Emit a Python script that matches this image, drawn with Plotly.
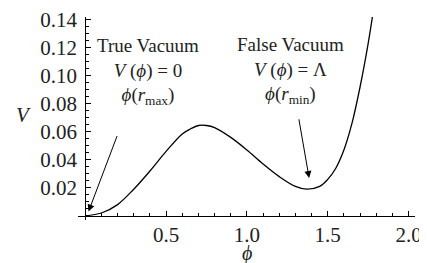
import plotly.graph_objects as go

# Data
phi = [0.0, 0.1, 0.2, 0.3, 0.4, 0.5, 0.6, 0.65, 0.7, 0.75, 0.8, 0.9, 1.0, 1.1, 1.2,
       1.3, 1.37, 1.45, 1.5, 1.55, 1.6, 1.65, 1.7, 1.75, 1.8]
V = [0.0, 0.002, 0.008, 0.019, 0.032, 0.046, 0.0585, 0.062, 0.0645, 0.0645, 0.063,
     0.056, 0.047, 0.037, 0.028, 0.021, 0.019, 0.021, 0.026, 0.034, 0.047, 0.066,
     0.092, 0.123, 0.16]

x_ticks = [0.5, 1.0, 1.5, 2.0]
x_ticktext = ["0.5", "1.0", "1.5", "2.0"]
y_ticks = [0.02, 0.04, 0.06, 0.08, 0.10, 0.12, 0.14]
y_ticktext = ["0.02", "0.04", "0.06", "0.08", "0.10", "0.12", "0.14"]

x_range = [-0.045, 2.04]
y_range = [-0.003, 0.142]

FONT = "Liberation Serif"
PHI = "\u03d5"

fig = go.Figure()
fig.add_trace(go.Scatter(x=phi, y=V, mode="lines",
                         line=dict(color="black", width=1.3, shape="spline", smoothing=1.0),
                         hoverinfo="skip", showlegend=False))

xpos = (0 - y_range[0]) / (y_range[1] - y_range[0])
ypos = (0 - x_range[0]) / (x_range[1] - x_range[0])

tickfont = dict(family=FONT, size=21, color="#222")

# page body has an 8px margin, so the figure is 8px smaller and margins shifted
fig.update_layout(
    width=419, height=255,
    margin=dict(l=70, r=12, t=9, b=43, autoexpand=False),
    paper_bgcolor="white", plot_bgcolor="white",
    font=dict(family=FONT, size=19, color="#222"),
    xaxis=dict(range=x_range, showgrid=False, zeroline=False, showline=True, linecolor="black", linewidth=1,
               anchor="free", position=xpos, tickvals=x_ticks, ticktext=x_ticktext, automargin=False,
               ticks="inside", ticklen=5, tickcolor="black", tickwidth=1,
               minor=dict(dtick=0.1, tick0=0, ticks="inside", ticklen=3, tickcolor="black", tickwidth=1),
               tickfont=tickfont, ticklabelstandoff=0),
    yaxis=dict(range=y_range, showgrid=False, zeroline=False, showline=True, linecolor="black", linewidth=1,
               anchor="free", position=ypos, tickvals=y_ticks, ticktext=y_ticktext, automargin=False,
               ticks="inside", ticklen=5, tickcolor="black", tickwidth=1,
               minor=dict(dtick=0.005, tick0=0, ticks="inside", ticklen=3, tickcolor="black", tickwidth=1),
               tickfont=tickfont, ticklabelstandoff=4),
)

ann_font = dict(family=FONT, size=19, color="#222")
fig.add_annotation(x=0.39, y=0.103, xref="x", yref="y", showarrow=False, align="center",
                   text=f"True Vacuum<br><i>V</i> (<i>{PHI}</i>) = 0<br><i>{PHI}</i>(<i>r</i><sub>max</sub>)",
                   font=ann_font)
fig.add_annotation(x=1.27, y=0.104, xref="x", yref="y", showarrow=False, align="center",
                   text=f"False Vacuum<br><i>V</i> (<i>{PHI}</i>) = Λ<br><i>{PHI}</i>(<i>r</i><sub>min</sub>)",
                   font=ann_font)
# arrows
fig.add_annotation(x=0.02, y=0.003, ax=0.2, ay=0.058, xref="x", yref="y", axref="x", ayref="y",
                   text="", showarrow=True, arrowhead=2, arrowsize=1.4, arrowwidth=1, arrowcolor="black")
fig.add_annotation(x=1.385, y=0.027, ax=1.32, ay=0.07, xref="x", yref="y", axref="x", ayref="y",
                   text="", showarrow=True, arrowhead=2, arrowsize=1.4, arrowwidth=1, arrowcolor="black")
# axis labels
fig.add_annotation(x=-0.163, y=0.517, xref="paper", yref="paper", xanchor="center", yanchor="middle",
                   showarrow=False, text="<i>V</i>", font=dict(family=FONT, size=21, color="#222"))
fig.add_annotation(x=0.501, y=-0.163, xref="paper", yref="paper", xanchor="center", yanchor="middle",
                   showarrow=False, text=f"<i>{PHI}</i>", font=dict(family=FONT, size=20, color="#222"))

fig.write_html("out.html")
